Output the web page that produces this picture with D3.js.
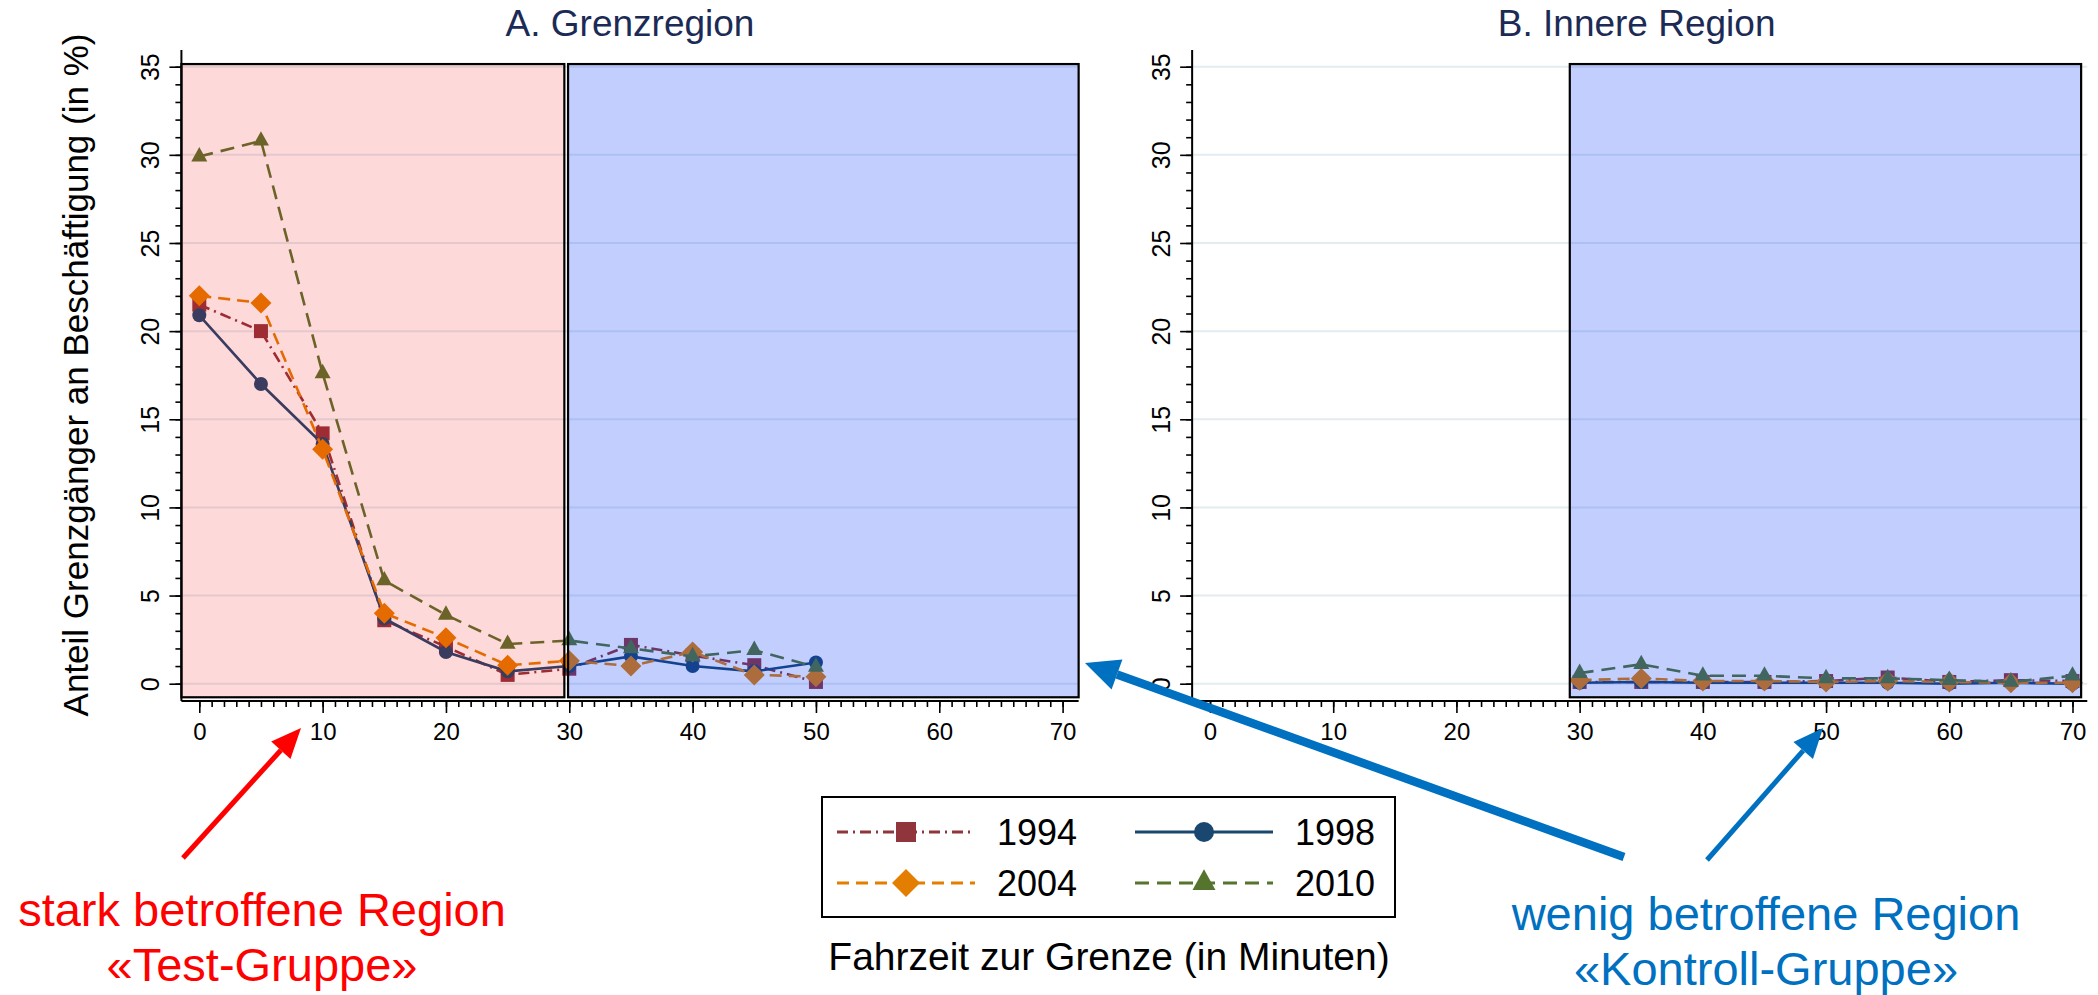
<!DOCTYPE html>
<html>
<head>
<meta charset="utf-8">
<script src="https://cdn.jsdelivr.net/npm/d3@7"></script>
<style>
  body { margin: 0; background: #fff; }
  svg text { font-family: "Liberation Sans", Arial, Helvetica, sans-serif; }
</style>
</head>
<body>
<svg id="chart" width="2098" height="995"></svg>
<script>
// ---- data ----
const years = ['1994', '1998', '2004', '2010'];

// A. Grenzregion: travel time 0..50 min
const timesBorder = [0, 5, 10, 15, 20, 25, 30, 35, 40, 45, 50];
const border1994 = [21.5, 20.0, 14.2, 3.6, 2.1, 0.5, 0.85, 2.2, 1.6, 1.05, 0.1];
const border1998 = [20.9, 17.0, 13.6, 3.7, 1.8, 0.7, 1.0, 1.55, 1.0, 0.7, 1.2];
const border2004 = [22.0, 21.6, 13.3, 4.0, 2.6, 1.05, 1.3, 1.0, 1.8, 0.5, 0.4];
const border2010 = [29.9, 30.8, 17.6, 5.85, 3.9, 2.25, 2.45, 2.0, 1.55, 1.9, 0.95];

// B. Innere Region: travel time 30..70 min
const timesInner = [30, 35, 40, 45, 50, 55, 60, 65, 70];
const inner1994 = [0.1, 0.1, 0.1, 0.1, 0.15, 0.35, 0.1, 0.2, 0.15];
const inner1998 = [0.05, 0.1, 0.05, 0.05, 0.05, 0.05, 0.0, 0.05, 0.0];
const inner2004 = [0.2, 0.3, 0.15, 0.15, 0.1, 0.15, 0.1, 0.05, 0.05];
const inner2010 = [0.6, 1.1, 0.45, 0.45, 0.3, 0.3, 0.2, 0.1, 0.45];

const yTicks = [0, 5, 10, 15, 20, 25, 30, 35];
const xTicks = [0, 10, 20, 30, 40, 50, 60, 70];

// ---- styles ----
const seriesStyle = {
  '1994': { color: '#90353b', dash: '11,5,2,5', marker: 'square' },
  '1998': { color: '#1a476f', dash: null, marker: 'circle' },
  '2004': { color: '#e37e00', dash: '12,7', marker: 'diamond' },
  '2010': { color: '#55752f', dash: '14,8', marker: 'triangle' }
};
const markerSize = { square: 14, circle: 14, diamond: 21, triangle: 16 };
const legendMarkerSize = { square: 20, circle: 20, diamond: 28, triangle: 23 };

const pinkFill = 'rgba(240,0,8,0.15)';
const blueFill = 'rgba(0,55,250,0.24)';
const gridColor = '#e3ecf1';

const svg = d3.select('#chart');
svg.append('rect').attr('width', 2098).attr('height', 995).attr('fill', '#fff');

const y = d3.scaleLinear().domain([0, 35]).range([683.7, 66.7]);
const yBox = [-0.77, 35.15];       // plot region box, data units
const yAxisExtent = [-0.98, 35.95];
const xAxisExtent = [-1.45, 71.3];

function markerPath(type, s) {
  const h = s / 2;
  if (type === 'square') return `M${-h},${-h}H${h}V${h}H${-h}Z`;
  if (type === 'circle') return d3.symbol(d3.symbolCircle, Math.PI * h * h)();
  if (type === 'diamond') return `M0,${-h}L${h},0L0,${h}L${-h},0Z`;
  const ht = s * 0.9;
  return `M0,${-ht * 2 / 3}L${h},${ht / 3}L${-h},${ht / 3}Z`;
}

function drawPanel(cfg) {
  const x = d3.scaleLinear().domain([0, 70]).range(cfg.range);
  const g = svg.append('g');

  // horizontal grid
  g.append('g').selectAll('line').data(yTicks).join('line')
    .attr('x1', x(xAxisExtent[0])).attr('x2', x(cfg.gridEnd))
    .attr('y1', d => y(d)).attr('y2', d => y(d))
    .attr('stroke', gridColor).attr('stroke-width', 2);

  // series
  const line = d3.line().x(d => x(d[0])).y(d => y(d[1]));
  years.forEach((yr, i) => {
    const st = seriesStyle[yr];
    const pts = cfg.times.map((t, j) => [t, cfg.values[i][j]]);
    g.append('path').datum(pts)
      .attr('d', line)
      .attr('fill', 'none')
      .attr('stroke', st.color)
      .attr('stroke-width', 2.6)
      .attr('stroke-dasharray', st.dash);
    g.append('g').selectAll('path').data(pts).join('path')
      .attr('transform', d => `translate(${x(d[0])},${y(d[1])})`)
      .attr('d', markerPath(st.marker, markerSize[st.marker]))
      .attr('fill', st.color);
  });

  // shaded regions (drawn over the data, semi-transparent)
  cfg.boxes.forEach(b => {
    g.append('rect')
      .attr('x', x(b.from)).attr('width', x(b.to) - x(b.from))
      .attr('y', y(yBox[1])).attr('height', y(yBox[0]) - y(yBox[1]))
      .attr('fill', b.fill)
      .attr('stroke', '#000').attr('stroke-width', 2.2);
  });

  // y axis
  const axisX = x(xAxisExtent[0]);
  const yMinor = g.append('g').attr('transform', `translate(${axisX},0)`)
    .call(d3.axisLeft(y).tickValues(d3.range(0, 36)).tickSize(6).tickFormat(''));
  yMinor.select('.domain').remove();
  const yMajor = g.append('g').attr('transform', `translate(${axisX},0)`)
    .call(d3.axisLeft(y).tickValues(yTicks).tickSize(12));
  yMajor.select('.domain').remove();
  yMajor.selectAll('.tick text')
    .attr('transform', 'rotate(-90)')
    .attr('x', 0).attr('y', -22).attr('dy', 0)
    .attr('text-anchor', 'middle')
    .attr('font-size', 25).attr('fill', '#000');
  g.selectAll('.tick line').attr('stroke', '#000').attr('stroke-width', 1.6);
  g.append('line')
    .attr('x1', axisX).attr('x2', axisX)
    .attr('y1', y(yAxisExtent[0])).attr('y2', y(yAxisExtent[1]))
    .attr('stroke', '#000').attr('stroke-width', 2);

  // x axis
  const axisY = y(yAxisExtent[0]);
  const xMinor = g.append('g').attr('transform', `translate(0,${axisY})`)
    .call(d3.axisBottom(x).tickValues(d3.range(0, 71)).tickSize(6).tickFormat(''));
  xMinor.select('.domain').remove();
  const xMajor = g.append('g').attr('transform', `translate(0,${axisY})`)
    .call(d3.axisBottom(x).tickValues(xTicks).tickSize(12));
  xMajor.select('.domain').remove();
  xMajor.selectAll('.tick text')
    .attr('y', 39).attr('dy', 0)
    .attr('font-size', 24).attr('fill', '#000');
  g.selectAll('.tick line').attr('stroke', '#000').attr('stroke-width', 1.6);
  g.append('line')
    .attr('x1', axisX).attr('x2', x(cfg.gridEnd))
    .attr('y1', axisY).attr('y2', axisY)
    .attr('stroke', '#000').attr('stroke-width', 2);

  // panel title
  g.append('text')
    .attr('x', (x(xAxisExtent[0]) + x(cfg.boxEnd)) / 2).attr('y', 36)
    .attr('text-anchor', 'middle')
    .attr('font-size', 37).attr('fill', '#1c2b55')
    .text(cfg.title);
}

drawPanel({
  title: 'A. Grenzregion',
  range: [199.3, 1062.6],
  gridEnd: 71.3,
  boxEnd: 71.3,
  times: timesBorder,
  values: [border1994, border1998, border2004, border2010],
  boxes: [
    { from: xAxisExtent[0], to: 29.6, fill: pinkFill },
    { from: 29.9, to: 71.3, fill: blueFill }
  ]
});

drawPanel({
  title: 'B. Innere Region',
  range: [1210, 2072.5],
  gridEnd: 71.2,
  boxEnd: 70.7,
  times: timesInner,
  values: [inner1994, inner1998, inner2004, inner2010],
  boxes: [
    { from: 29.2, to: 70.7, fill: blueFill }
  ]
});

// y axis title
svg.append('text')
  .attr('transform', 'translate(88,375) rotate(-90)')
  .attr('text-anchor', 'middle')
  .attr('font-size', 35).attr('fill', '#000')
  .text('Anteil Grenzgänger an Beschäftigung (in %)');

// x axis title
svg.append('text')
  .attr('x', 1109).attr('y', 970)
  .attr('text-anchor', 'middle')
  .attr('font-size', 39).attr('fill', '#000')
  .text('Fahrzeit zur Grenze (in Minuten)');

// legend
const legend = svg.append('g');
legend.append('rect')
  .attr('x', 822).attr('y', 797).attr('width', 573).attr('height', 120)
  .attr('fill', '#fff').attr('stroke', '#000').attr('stroke-width', 2);
const legendCols = [837, 1135];
const legendRows = [832, 883];
years.forEach((yr, i) => {
  const st = seriesStyle[yr];
  const lx = legendCols[i % 2], ly = legendRows[Math.floor(i / 2)];
  legend.append('line')
    .attr('x1', lx).attr('x2', lx + 138).attr('y1', ly).attr('y2', ly)
    .attr('stroke', st.color).attr('stroke-width', 3)
    .attr('stroke-dasharray', st.dash);
  legend.append('path')
    .attr('transform', `translate(${lx + 69},${ly})`)
    .attr('d', markerPath(st.marker, legendMarkerSize[st.marker]))
    .attr('fill', st.color);
  legend.append('text')
    .attr('x', lx + 160).attr('y', ly + 13)
    .attr('font-size', 36).attr('fill', '#000')
    .text(yr);
});

// annotations
const notes = [
  { lines: ['stark betroffene Region', '\u00ABTest-Gruppe\u00BB'], x: 262, y: 926, color: '#ff0000' },
  { lines: ['wenig betroffene Region', '\u00ABKontroll-Gruppe\u00BB'], x: 1766, y: 930, color: '#0070c0' }
];
notes.forEach(n => {
  const t = svg.append('text')
    .attr('text-anchor', 'middle')
    .attr('font-size', 47).attr('fill', n.color);
  n.lines.forEach((s, i) => {
    t.append('tspan').attr('x', n.x).attr('y', n.y + i * 55).text(s);
  });
});

const arrows = [
  { from: [183, 858], to: [301, 728], color: '#ff0000', width: 5, head: 30, headW: 26 },
  { from: [1624, 857], to: [1085, 663], color: '#0070c0', width: 8.5, head: 34, headW: 32 },
  { from: [1707, 860], to: [1823, 728], color: '#0070c0', width: 5, head: 30, headW: 26 }
];
arrows.forEach(a => {
  const [x1, y1] = a.from, [x2, y2] = a.to;
  const ang = Math.atan2(y2 - y1, x2 - x1);
  const bx = x2 - a.head * Math.cos(ang), by = y2 - a.head * Math.sin(ang);
  const px = Math.sin(ang) * a.headW / 2, py = -Math.cos(ang) * a.headW / 2;
  svg.append('line')
    .attr('x1', x1).attr('y1', y1).attr('x2', bx).attr('y2', by)
    .attr('stroke', a.color).attr('stroke-width', a.width);
  svg.append('path')
    .attr('d', `M${x2},${y2}L${bx + px},${by + py}L${bx - px},${by - py}Z`)
    .attr('fill', a.color);
});
</script>
</body>
</html>
